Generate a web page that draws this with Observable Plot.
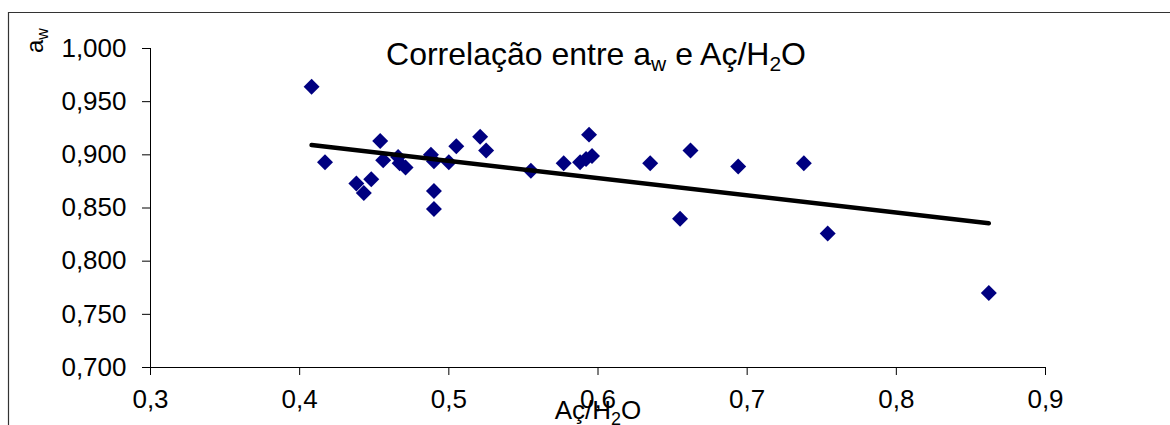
<!DOCTYPE html>
<html>
<head>
<meta charset="utf-8">
<script src="https://cdn.jsdelivr.net/npm/d3@7"></script>
<script src="https://cdn.jsdelivr.net/npm/@observablehq/plot@0.6"></script>
<style>
  html, body { margin: 0; padding: 0; background: #fff; }
  #chart { width: 1170px; height: 425px; overflow: hidden; }
</style>
</head>
<body>
<div id="chart"></div>
<script>
// Aç/H2O values (x) and water activity aw (y)
const acH2O = [0.408, 0.417, 0.438, 0.443, 0.448, 0.454, 0.456, 0.466, 0.467, 0.471,
               0.488, 0.490, 0.490, 0.490, 0.500, 0.505, 0.521, 0.525, 0.555, 0.577,
               0.588, 0.592, 0.594, 0.596, 0.635, 0.655, 0.662, 0.694, 0.738, 0.754, 0.862];
const aw    = [0.964, 0.893, 0.873, 0.864, 0.877, 0.913, 0.895, 0.898, 0.892, 0.888,
               0.900, 0.894, 0.866, 0.849, 0.893, 0.908, 0.917, 0.904, 0.885, 0.892,
               0.893, 0.896, 0.919, 0.899, 0.892, 0.840, 0.904, 0.889, 0.892, 0.826, 0.770];
const xTicks = [0.3, 0.4, 0.5, 0.6, 0.7, 0.8, 0.9];
const yTicks = [0.70, 0.75, 0.80, 0.85, 0.90, 0.95, 1.00];

const data = acH2O.map((x, i) => ({x, y: aw[i]}));
const fmtX = d => d3.format(".1f")(d).replace(".", ",");
const fmtY = d => d3.format(".3f")(d).replace(".", ",");

const font = "'Liberation Sans', Arial, sans-serif";

const chart = Plot.plot({
  width: 1170,
  height: 425,
  marginLeft: 150,
  marginRight: 125,
  marginTop: 48,
  marginBottom: 58,
  style: {fontFamily: font, fontSize: "26px", color: "black", background: "transparent", overflow: "visible"},
  x: {domain: [0.3, 0.9]},
  y: {domain: [0.7, 1.0]},
  marks: [
    Plot.axisX({ticks: xTicks, tickFormat: fmtX, tickSize: 8, tickPadding: 14, label: null, fontSize: 26, stroke: "black", strokeOpacity: 1}),
    Plot.axisY({ticks: yTicks, tickFormat: fmtY, tickSize: 8, tickPadding: 16, label: null, fontSize: 26, stroke: "black", strokeOpacity: 1}),
    Plot.ruleY([0.7], {stroke: "black"}),
    Plot.ruleX([0.3], {stroke: "black"}),
    Plot.dot(data, {x: "x", y: "y", symbol: "diamond2", r: 7.2, fill: "#000080", stroke: null}),
    Plot.linearRegressionY(data, {x: "x", y: "y", ci: 0, stroke: "black", strokeWidth: 4.5, strokeLinecap: "round"})
  ]
});

document.getElementById("chart").appendChild(chart);

const svg = d3.select(chart);
// chart area border (top and left edges visible)
svg.append("path")
  .attr("d", "M8.5,425V12.5H1170")
  .attr("fill", "none")
  .attr("stroke", "#333")
  .attr("stroke-width", 1.2);

// Title with subscripts
const title = svg.append("text")
  .attr("x", 596).attr("y", 65)
  .attr("text-anchor", "middle")
  .attr("font-family", font).attr("font-size", 32).attr("fill", "black");
title.append("tspan").text("Correlação entre a");
title.append("tspan").attr("dy", 6).attr("font-size", 21).text("w");
title.append("tspan").attr("dy", -6).text(" e Aç/H");
title.append("tspan").attr("dy", 6).attr("font-size", 21).text("2");
title.append("tspan").attr("dy", -6).text("O");

// Y axis title a_w (rotated)
const ylab = svg.append("text")
  .attr("transform", "translate(43,53) rotate(-90)")
  .attr("text-anchor", "start")
  .attr("font-family", font).attr("font-size", 24).attr("fill", "black");
ylab.append("tspan").text("a");
ylab.append("tspan").attr("dy", 5).attr("font-size", 16).text("w");

// X axis title Aç/H2O
const xlab = svg.append("text")
  .attr("x", 598).attr("y", 419)
  .attr("text-anchor", "middle")
  .attr("font-family", font).attr("font-size", 26).attr("fill", "black");
xlab.append("tspan").text("Aç/H");
xlab.append("tspan").attr("dy", 6).attr("font-size", 18).text("2");
xlab.append("tspan").attr("dy", -6).text("O");
</script>
</body>
</html>
